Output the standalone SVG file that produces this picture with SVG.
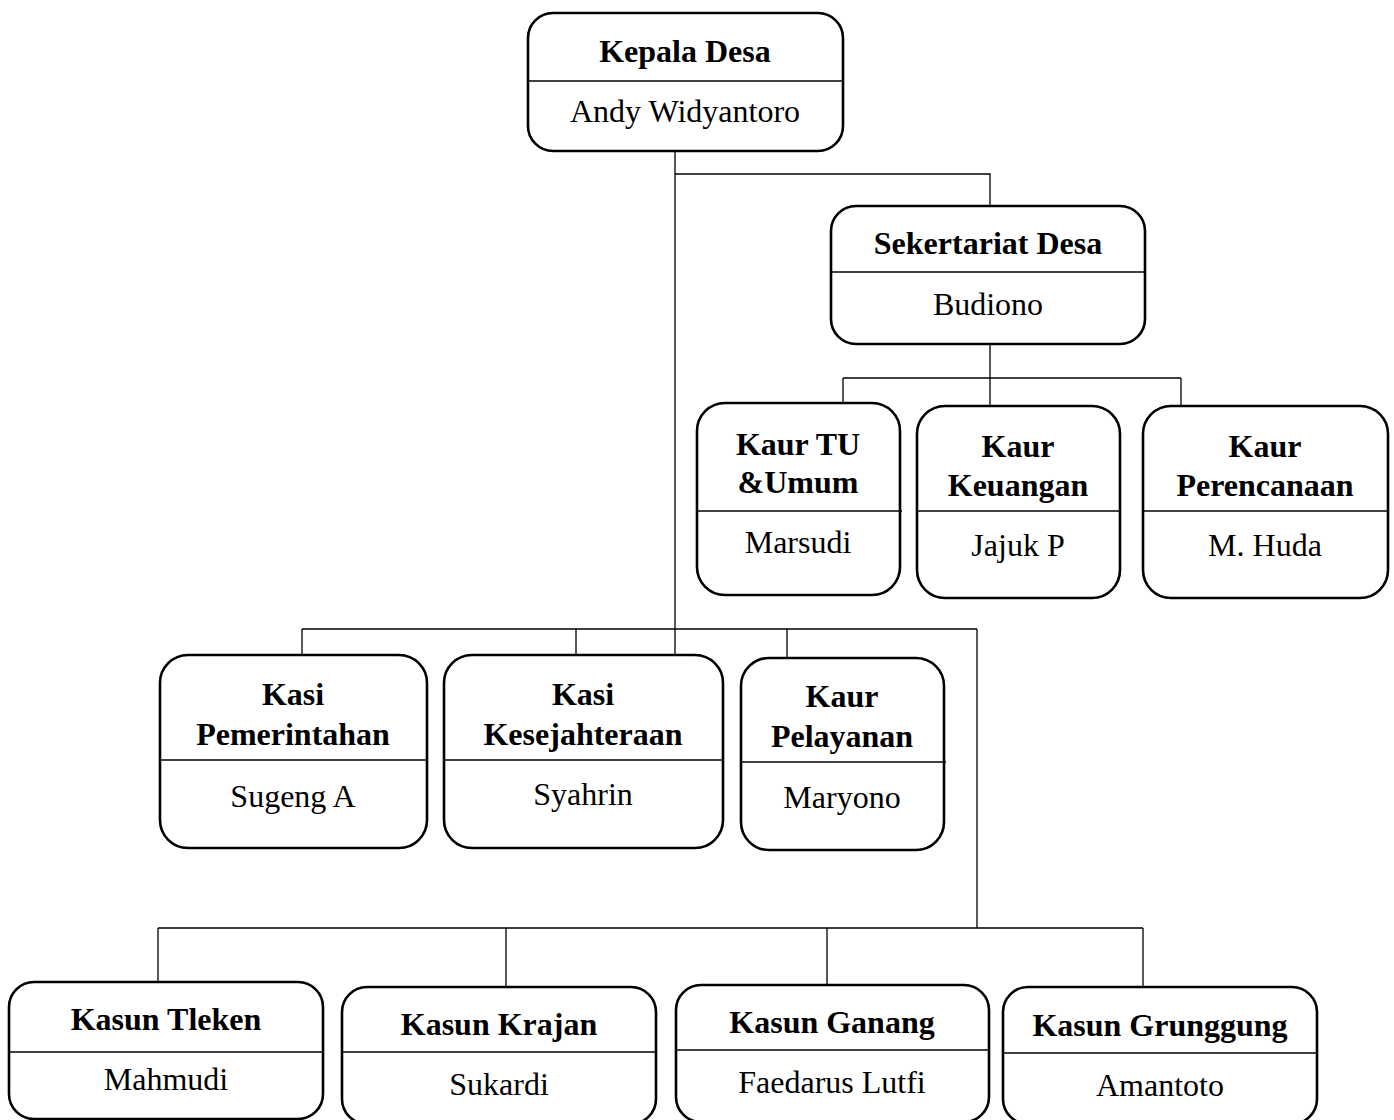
<svg xmlns="http://www.w3.org/2000/svg" width="1394" height="1120" viewBox="0 0 1394 1120">
<style>
.box{fill:#fff;stroke:#000;stroke-width:2.6}
.div{stroke:#000;stroke-width:1.3}
.t{font-family:"Liberation Serif","Times New Roman",serif;font-size:32px;font-weight:bold;text-anchor:middle;fill:#000}
.n{font-family:"Liberation Serif","Times New Roman",serif;font-size:32px;text-anchor:middle;fill:#000}
.c{fill:none;stroke:#000;stroke-width:1.3}
</style>
<rect width="1394" height="1120" fill="#fff"/>
<g id="connectors">
<path class="c" d="M675 151V655M675 174H990V207"/>
<path class="c" d="M990 344V405M843 378H1181M843 378V403M1181 378V405"/>
<path class="c" d="M302 629H977M302 629V655M576 629V655M787 629V658M977 629V928"/>
<path class="c" d="M158 928H1143M158 928V982M506 928V987M827 928V985M1143 928V987"/>
</g>
<g id="kepala-desa">
<rect class="box" x="528" y="13" width="315" height="138" rx="25"/>
<line class="div" x1="528" y1="81" x2="843" y2="81"/>
<text class="t" x="685" y="62">Kepala Desa</text>
<text class="n" x="685" y="122">Andy Widyantoro</text>
</g>
<g id="sekertariat-desa">
<rect class="box" x="831" y="206" width="314" height="138" rx="25"/>
<line class="div" x1="831" y1="272" x2="1145" y2="272"/>
<text class="t" x="988" y="254">Sekertariat Desa</text>
<text class="n" x="988" y="315">Budiono</text>
</g>
<g id="kaur-tu">
<rect class="box" x="697" y="403" width="203" height="192" rx="28"/>
<line class="div" x1="697" y1="511" x2="902" y2="511"/>
<text class="t" x="798" y="455">Kaur TU</text>
<text class="t" x="798" y="493">&amp;Umum</text>
<text class="n" x="798" y="553">Marsudi</text>
</g>
<g id="kaur-keuangan">
<rect class="box" x="917" y="406" width="203" height="192" rx="28"/>
<line class="div" x1="917" y1="511" x2="1120" y2="511"/>
<text class="t" x="1018" y="457">Kaur</text>
<text class="t" x="1018" y="496">Keuangan</text>
<text class="n" x="1018" y="556">Jajuk P</text>
</g>
<g id="kaur-perencanaan">
<rect class="box" x="1143" y="406" width="245" height="192" rx="28"/>
<line class="div" x1="1143" y1="511" x2="1388" y2="511"/>
<text class="t" x="1265" y="457">Kaur</text>
<text class="t" x="1265" y="496">Perencanaan</text>
<text class="n" x="1265" y="556">M. Huda</text>
</g>
<g id="kasi-pemerintahan">
<rect class="box" x="160" y="655" width="267" height="193" rx="28"/>
<line class="div" x1="160" y1="760" x2="427" y2="760"/>
<text class="t" x="293" y="705">Kasi</text>
<text class="t" x="293" y="745">Pemerintahan</text>
<text class="n" x="293" y="807">Sugeng A</text>
</g>
<g id="kasi-kesejahteraan">
<rect class="box" x="444" y="655" width="279" height="193" rx="28"/>
<line class="div" x1="444" y1="760" x2="723" y2="760"/>
<text class="t" x="583" y="705">Kasi</text>
<text class="t" x="583" y="745">Kesejahteraan</text>
<text class="n" x="583" y="805">Syahrin</text>
</g>
<g id="kaur-pelayanan">
<rect class="box" x="741" y="658" width="203" height="192" rx="28"/>
<line class="div" x1="741" y1="762" x2="946" y2="762"/>
<text class="t" x="842" y="707">Kaur</text>
<text class="t" x="842" y="747">Pelayanan</text>
<text class="n" x="842" y="808">Maryono</text>
</g>
<g id="kasun-tleken">
<rect class="box" x="9" y="982" width="314" height="137" rx="25"/>
<line class="div" x1="9" y1="1052" x2="323" y2="1052"/>
<text class="t" x="166" y="1030">Kasun Tleken</text>
<text class="n" x="166" y="1090">Mahmudi</text>
</g>
<g id="kasun-krajan">
<rect class="box" x="342" y="987" width="314" height="137" rx="25"/>
<line class="div" x1="342" y1="1052" x2="656" y2="1052"/>
<text class="t" x="499" y="1035">Kasun Krajan</text>
<text class="n" x="499" y="1095">Sukardi</text>
</g>
<g id="kasun-ganang">
<rect class="box" x="676" y="985" width="313" height="137" rx="25"/>
<line class="div" x1="676" y1="1050" x2="989" y2="1050"/>
<text class="t" x="832" y="1033">Kasun Ganang</text>
<text class="n" x="832" y="1093">Faedarus Lutfi</text>
</g>
<g id="kasun-grunggung">
<rect class="box" x="1003" y="987" width="314" height="137" rx="25"/>
<line class="div" x1="1003" y1="1053" x2="1317" y2="1053"/>
<text class="t" x="1160" y="1036">Kasun Grunggung</text>
<text class="n" x="1160" y="1096">Amantoto</text>
</g>
</svg>
